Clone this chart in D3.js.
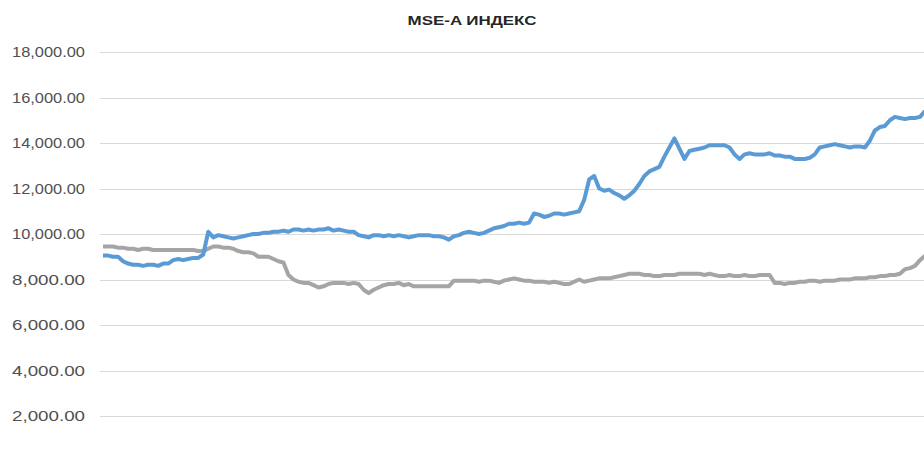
<!DOCTYPE html>
<html>
<head>
<meta charset="utf-8">
<script src="https://cdn.jsdelivr.net/npm/d3@7/dist/d3.min.js"></script>
<style>
	body { margin: 0; background: #fff; }
	.chart_title { font-family: "Liberation Sans", Arial, sans-serif; font-weight: bold; font-size: 13px; fill: #262626; }
	.tick_label { font-family: "Liberation Sans", Arial, sans-serif; font-size: 15px; fill: #505050; }
	.grid_line { stroke: #d9d9d9; stroke-width: 1; }
</style>
</head>
<body>
<div id="chart"></div>
<script>
// MSE-A index, two series, one value every trading step
var seriesNames = ["MSE-A", "Compare"];

var blueValues = [
	9050, 9050, 9000, 9000, 8800, 8700, 8650, 8650, 8600, 8650,
	8650, 8600, 8700, 8700, 8850, 8900, 8850, 8900, 8950, 8950,
	9100, 10100, 9850, 9950, 9900, 9850, 9800, 9850, 9900, 9950,
	10000, 10000, 10050, 10050, 10100, 10100, 10150, 10100, 10200, 10200,
	10150, 10200, 10150, 10200, 10200, 10250, 10150, 10200, 10150, 10100,
	10100, 9950, 9900, 9850, 9950, 9950, 9900, 9950, 9900, 9950,
	9900, 9850, 9900, 9950, 9950, 9950, 9900, 9900, 9850, 9750,
	9900, 9950, 10050, 10100, 10050, 10000, 10050, 10150, 10250, 10300,
	10350, 10450, 10450, 10500, 10450, 10500, 10900, 10850, 10750, 10800,
	10900, 10900, 10850, 10900, 10950, 11000, 11500, 12400, 12550, 12000,
	11900, 11950, 11800, 11700, 11550, 11700, 11900, 12200, 12550, 12750,
	12850, 12950, 13400, 13800, 14200, 13750, 13300, 13650, 13700, 13750,
	13800, 13900, 13900, 13900, 13900, 13800, 13500, 13300, 13500, 13550,
	13500, 13500, 13500, 13550, 13450, 13450, 13400, 13400, 13300, 13300,
	13300, 13350, 13500, 13800, 13850, 13900, 13950, 13900, 13850, 13800,
	13850, 13850, 13800, 14100, 14550, 14700, 14750, 15000, 15150, 15100,
	15050, 15100, 15100, 15150, 15400
];

var grayValues = [
	9450, 9450, 9450, 9400, 9400, 9350, 9350, 9300, 9350, 9350,
	9300, 9300, 9300, 9300, 9300, 9300, 9300, 9300, 9300, 9250,
	9250, 9350, 9450, 9450, 9400, 9400, 9350, 9250, 9200, 9200,
	9150, 9000, 9000, 9000, 8900, 8800, 8750, 8200, 8000, 7900,
	7850, 7850, 7750, 7650, 7700, 7800, 7850, 7850, 7850, 7800,
	7850, 7800, 7550, 7400, 7550, 7650, 7750, 7800, 7800, 7850,
	7750, 7800, 7700, 7700, 7700, 7700, 7700, 7700, 7700, 7700,
	7950, 7950, 7950, 7950, 7950, 7900, 7950, 7950, 7900, 7850,
	7950, 8000, 8050, 8000, 7950, 7950, 7900, 7900, 7900, 7850,
	7900, 7850, 7800, 7800, 7900, 8000, 7900, 7950, 8000, 8050,
	8050, 8050, 8100, 8150, 8200, 8250, 8250, 8250, 8200, 8200,
	8150, 8150, 8200, 8200, 8200, 8250, 8250, 8250, 8250, 8250,
	8200, 8250, 8200, 8150, 8150, 8200, 8150, 8150, 8200, 8150,
	8150, 8200, 8200, 8200, 7850, 7850, 7800, 7850, 7850, 7900,
	7900, 7950, 7950, 7900, 7950, 7950, 7950, 8000, 8000, 8000,
	8050, 8050, 8050, 8100, 8100, 8150, 8150, 8200, 8200, 8250,
	8450, 8500, 8600, 8850, 9050
];

var yTicks = [2000, 4000, 6000, 8000, 10000, 12000, 14000, 16000, 18000];

var opts = {
	width: 924,
	height: 459
};

drawIndex("#chart", opts);

function drawIndex(containerID, chartOptions) {
	var svg = d3.select(containerID).append("svg")
		.attr("width", chartOptions.width)
		.attr("height", chartOptions.height);

	var x = d3.scaleLinear()
		.domain([0, blueValues.length - 1])
		.range([103, 925]);

	var y = d3.scaleLinear()
		.domain([0, 18000])
		.range([461.5, 52]);

	var fmt = d3.format(",.2f");

	svg.append("text")
		.attr("class", "chart_title")
		.attr("x", 472)
		.attr("y", 25)
		.attr("text-anchor", "middle")
		.attr("textLength", 129)
		.attr("lengthAdjust", "spacingAndGlyphs")
		.text("MSE-A ИНДЕКС");

	// horizontal gridlines, the plot runs off the right edge
	svg.selectAll(".grid_line")
		.data(yTicks)
		.enter().append("line")
		.attr("class", "grid_line")
		.attr("x1", 100)
		.attr("x2", chartOptions.width)
		.attr("y1", function(d) { return Math.round(y(d)) + 0.5; })
		.attr("y2", function(d) { return Math.round(y(d)) + 0.5; });

	svg.selectAll(".tick_label")
		.data(yTicks)
		.enter().append("text")
		.attr("class", "tick_label")
		.attr("x", 85)
		.attr("y", function(d) { return y(d) + 5; })
		.attr("text-anchor", "end")
		.attr("textLength", 73)
		.attr("lengthAdjust", "spacingAndGlyphs")
		.text(function(d) { return fmt(d); });

	var line = d3.line()
		.x(function(d, i) { return x(i); })
		.y(function(d) { return y(d); });

	svg.append("path")
		.datum(grayValues)
		.attr("fill", "none")
		.attr("stroke", "#a5a5a5")
		.attr("stroke-width", 4)
		.attr("stroke-linejoin", "round")
		.attr("d", line);

	svg.append("path")
		.datum(blueValues)
		.attr("fill", "none")
		.attr("stroke", "#5b9bd5")
		.attr("stroke-width", 4)
		.attr("stroke-linejoin", "round")
		.attr("d", line);
}
</script>
</body>
</html>
